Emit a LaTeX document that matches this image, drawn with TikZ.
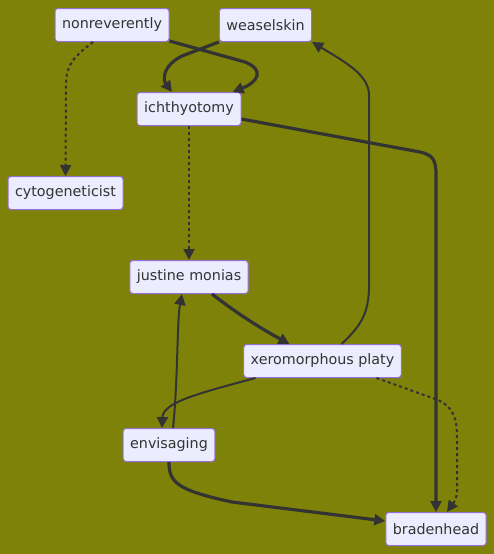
\documentclass[tikz,border=0pt]{standalone}
\usepackage{fontspec}
\setmainfont{DejaVu Sans}
\usetikzlibrary{arrows.meta,calc}
\definecolor{bg}{RGB}{127,130,8}
\definecolor{nodefill}{RGB}{236,236,255}
\definecolor{nodeborder}{RGB}{147,112,219}
\definecolor{edgec}{RGB}{51,51,51}
\tikzset{
  box/.style={rectangle, rounded corners=3pt, fill=nodefill, draw=nodeborder, line width=1pt,
    minimum height=33pt, inner xsep=7pt, text=edgec, font=\fontsize{14.3pt}{16pt}\selectfont},
  tip/.style={-{Triangle[length=11pt,width=11pt]}},
  thickedge/.style={tip, draw=edgec, line width=3.2pt},
  normaledge/.style={tip, draw=edgec, line width=2pt},
  dottededge/.style={tip, draw=edgec, line width=2pt, dash pattern=on 3pt off 3pt},
}
\begin{document}
\begin{tikzpicture}[x=1pt,y=-1pt]
\fill[bg] (0,0) rectangle (494,554);
\useasboundingbox (0,0) rectangle (494,554);
\node[box, minimum width=114pt] (nr) at (112,25) {nonreverently};
\node[box, minimum width=91pt] (ws) at (265.5,25) {weaselskin};
\node[box, minimum width=104pt] (ich) at (189,109) {ichthyotomy};
\node[box, minimum width=115pt] (cy) at (65.5,193) {cytogeneticist};
\node[box, minimum width=118pt] (jm) at (189,277) {justine monias};
\node[box, minimum width=157pt] (xp) at (322.5,361) {xeromorphous platy};
\node[box, minimum width=88pt] (en) at (169,445) {envisaging};
\node[box, minimum width=98pt] (br) at (436,529) {bradenhead};

% nonreverently -> ichthyotomy
\draw[thickedge] ([yshift=1pt]nr.south east) -- (245,62) .. controls (265,70) and (258,82) .. ([xshift=-9pt]ich.north east);
% weaselskin -> ichthyotomy
\draw[thickedge] (ws.south west) -- (182,56) .. controls (162,66) and (163,80) .. ([xshift=-17pt]ich.north);
% nonreverently -> cytogeneticist
\draw[dottededge] ([xshift=-19pt]nr.south) .. controls (72,58) and (66,66) .. (66,85) -- (cy.north);
% ichthyotomy -> justine monias
\draw[dottededge] (ich.south) -- (jm.north);
% ichthyotomy -> bradenhead
\draw[thickedge] ([yshift=-10pt]ich.east) -- (420,152) .. controls (433,155) and (436,160) .. (436,175) -- (br.north);
% xeromorphous -> weaselskin
\draw[normaledge] ([xshift=19pt]xp.north) .. controls (362,325) and (369,312) .. (369,285) -- (369,95) .. controls (369,75) and (345,62) .. (ws.south east);
% justine -> xeromorphous
\draw[thickedge] ([xshift=23pt]jm.south) .. controls (235,312) and (260,328) .. ([xshift=-33pt]xp.north);
% xeromorphous -> envisaging
\draw[normaledge] ([xshift=-67pt]xp.south) .. controls (200,393) and (163,402) .. ([xshift=-7pt]en.north);
% envisaging -> justine
\draw[normaledge] ([xshift=4pt]en.north) .. controls (178,380) and (177,320) .. ([xshift=-7pt]jm.south);
% envisaging -> bradenhead
\draw[thickedge] (en.south) .. controls (169,482) and (176,490) .. (232,502) -- ([yshift=8pt]br.west);
% xeromorphous -> bradenhead
\draw[dottededge] ([xshift=54pt]xp.south) -- (438,400) .. controls (455,408) and (457,420) .. (457,440) -- (457,490) .. controls (457,500) and (452,505) .. ([xshift=11pt]br.north);
\end{tikzpicture}
\end{document}
